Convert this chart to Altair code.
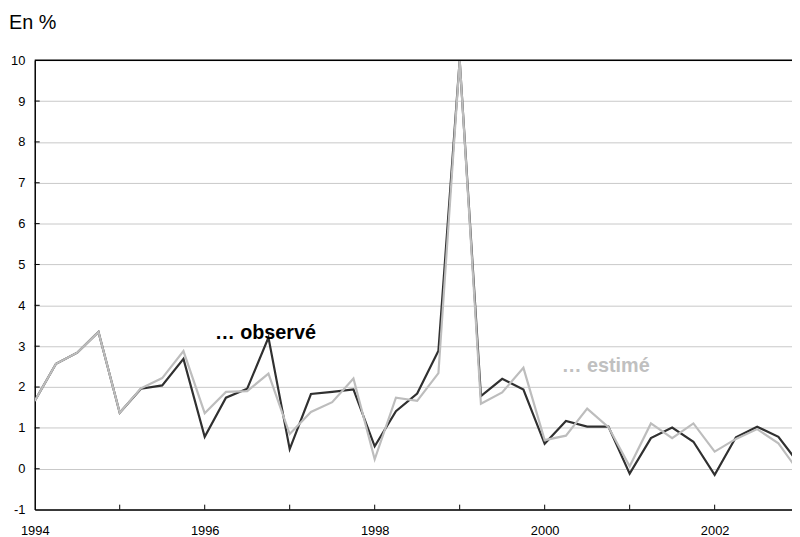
import altair as alt
import pandas as pd

# quarterly dates (decimal years)
quarters = [1994 + i * 0.25 for i in range(37)]

observe = [1.66, 2.57, 2.84, 3.35,
           1.37, 1.96, 2.04, 2.69,
           0.78, 1.74, 1.96, 3.21,
           0.48, 1.83, 1.88, 1.94,
           0.55, 1.41, 1.84, 2.89,
           10.0, 1.78, 2.20, 1.94,
           0.61, 1.17, 1.03, 1.03,
           -0.12, 0.75, 1.01, 0.66,
           -0.15, 0.77, 1.03, 0.78,
           0.10]
estime = [1.66, 2.57, 2.84, 3.35,
          1.37, 1.97, 2.22, 2.88,
          1.36, 1.88, 1.90, 2.33,
          0.85, 1.39, 1.63, 2.21,
          0.23, 1.74, 1.66, 2.34,
          10.0, 1.59, 1.87, 2.47,
          0.70, 0.81, 1.47, 1.02,
          0.06, 1.11, 0.75, 1.11,
          0.42, 0.73, 0.97, 0.62,
          -0.10]

x_labels = [1994, 1996, 1998, 2000, 2002]
x_ticks = [1995, 1996, 1997, 1998, 1999, 2000, 2001, 2002]
y_ticks = [-1, 0, 1, 2, 3, 4, 5, 6, 7, 8, 9, 10]

FONT = "Liberation Sans"
W, H = 765, 454

df_obs = pd.DataFrame({"t": quarters, "v": observe})
df_est = pd.DataFrame({"t": quarters, "v": estime})

xenc = alt.X("t:Q",
             scale=alt.Scale(domain=[1994, 2002.91], nice=False, zero=False),
             axis=alt.Axis(values=x_labels, format="d", tickSize=0, labelPadding=15,
                           grid=False, title=None, domainColor="black", domainWidth=1.5,
                           labelFontSize=13, labelFont=FONT, labelColor="black",
                           labelFlush=False))
yenc = alt.Y("v:Q",
             scale=alt.Scale(domain=[-1, 10], nice=False, zero=False),
             axis=alt.Axis(values=y_ticks, tickSize=0, labelPadding=10, grid=True,
                           gridColor="#c8c8c8", gridWidth=1, title=None,
                           domainColor="black", domainWidth=1.5,
                           labelExpr="datum.value < 0 ? '-' + abs(datum.value) : '' + datum.value",
                           labelFontSize=13, labelFont=FONT, labelColor="black"))

line_obs = alt.Chart(df_obs).mark_line(color="#303030", strokeWidth=2.2, clip=True).encode(x=xenc, y=yenc)
line_est = alt.Chart(df_est).mark_line(color="#bdbdbd", strokeWidth=2.2, clip=True).encode(x="t:Q", y="v:Q")

ytick_rules = alt.Chart(pd.DataFrame({"v": y_ticks[1:-1]})).mark_rule(color="black", strokeWidth=1).encode(
    x=alt.value(0), x2=alt.value(5), y="v:Q")
xtick_rules = alt.Chart(pd.DataFrame({"t": x_ticks})).mark_rule(color="black", strokeWidth=1).encode(
    x="t:Q", y=alt.value(H - 5), y2=alt.value(H))

top_rule = alt.Chart(pd.DataFrame({"v": [10]})).mark_rule(color="black", strokeWidth=1.5).encode(
    y="v:Q", x=alt.value(0), x2=alt.value(W))

lab_obs = alt.Chart(pd.DataFrame({"t": [1996.12], "v": [3.18]})).mark_text(
    align="left", baseline="alphabetic", fontSize=20, fontWeight="bold", font=FONT, color="black"
).encode(x="t:Q", y="v:Q", text=alt.value("… observé"))
lab_est = alt.Chart(pd.DataFrame({"t": [2000.2], "v": [2.38]})).mark_text(
    align="left", baseline="alphabetic", fontSize=20, fontWeight="bold", font=FONT, color="#c0c0c0"
).encode(x="t:Q", y="v:Q", text=alt.value("… estimé"))

unit = alt.Chart(pd.DataFrame({"a": [0]})).mark_text(
    align="left", baseline="alphabetic", fontSize=20, font=FONT, color="black"
).encode(x=alt.value(-26), y=alt.value(-32), text=alt.value("En %"))

chart = alt.layer(line_obs, line_est, ytick_rules, xtick_rules, top_rule, lab_obs, lab_est, unit).properties(
    width=W, height=H,
    autosize=alt.AutoSizeParams(type="none"),
    padding={"left": 27, "top": 50, "right": 0, "bottom": 30},
    background="white",
).configure_view(stroke=None)

chart.save("out.html", embed_options={"renderer": "svg", "actions": False})
